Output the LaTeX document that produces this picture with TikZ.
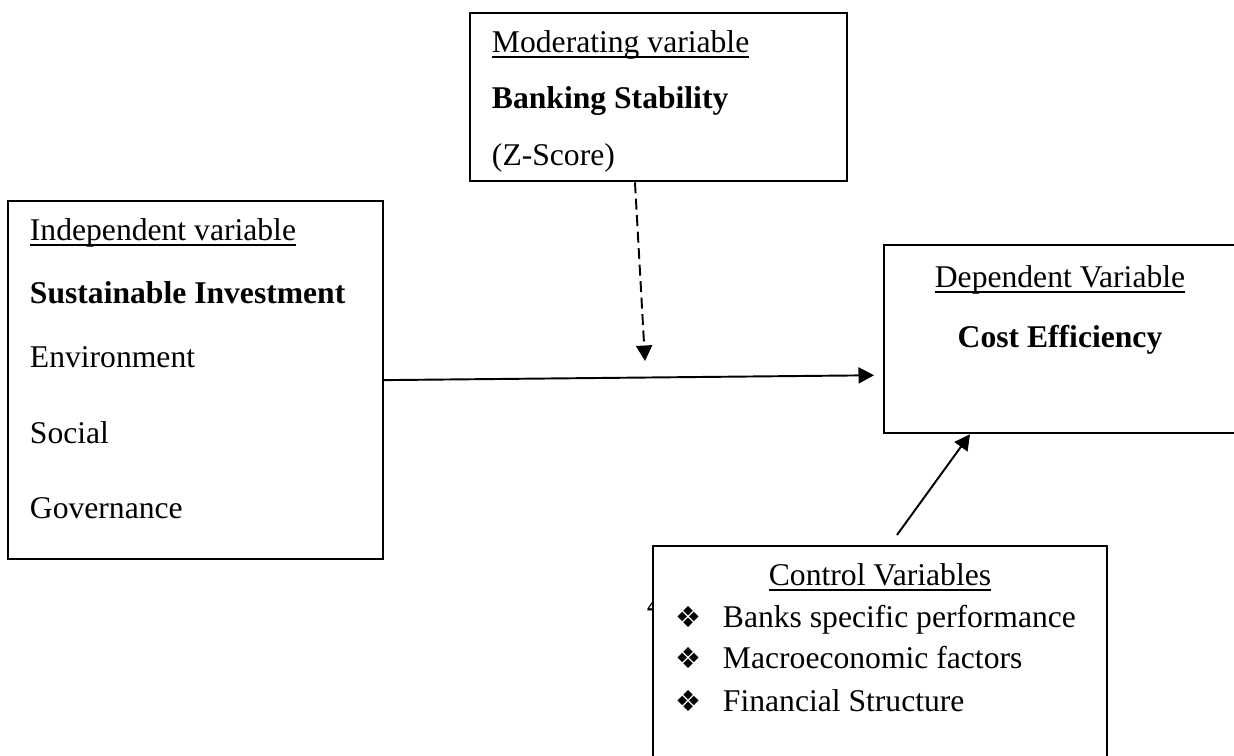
\documentclass[tikz,border=0pt]{standalone}
\usepackage{fontspec}
\setmainfont{Liberation Serif}
\newfontfamily\symbolfont{DejaVu Sans}
\usetikzlibrary{arrows.meta,positioning}

\newcommand{\varhead}[1]{\setbox0\hbox{#1}\rlap{\rule[-0.11cm]{\wd0}{0.04cm}}\box0}

\begin{document}
\begin{tikzpicture}[x=0.02cm, y=-0.02cm, line width=1.1pt,
   box/.style={draw, rectangle, fill=white, anchor=north west, inner sep=0pt, line width=1.3pt},
   txt/.style={anchor=base west, inner sep=0pt, font=\fontsize{18}{22}\selectfont},
   ctxt/.style={txt, anchor=base},
   bul/.style={anchor=base west, inner sep=0pt, font=\symbolfont\fontsize{16.5}{18}\selectfont},
   link/.style={-{Triangle[length=0.31cm, width=0.32cm]}, line width=1.1pt}]
   \useasboundingbox (0,0) rectangle (1234,755);
   \clip (0,0) rectangle (1234,755);

   % page number peeking out behind the control box
   \node[txt] (pagenum) at (646,615) {4};

   % boxes
   \node[box, minimum width=7.54cm, minimum height=3.36cm] (mod)   at (469,12)  {};
   \node[box, minimum width=7.5cm,  minimum height=7.16cm] (indep) at (7,200)   {};
   \node[box, minimum width=8cm,    minimum height=3.76cm] (dep)   at (883,244) {};
   \node[box, minimum width=9.08cm, minimum height=5.6cm]  (ctrl)  at (652,545) {};

   % moderating variable
   \node[txt] (modhead) at (491,52)  {\varhead{Moderating variable}};
   \node[txt] (modname) at (491,108) {\textbf{Banking Stability}};
   \node[txt] (modmeas) at (491,165) {(Z-Score)};

   % independent variable
   \node[txt] (indhead) at (29,240) {\varhead{Independent variable}};
   \node[txt] (indname) at (29,303) {\textbf{Sustainable Investment}};
   \node[txt] (indenv)  at (29,367) {Environment};
   \node[txt] (indsoc)  at (29,443) {Social};
   \node[txt] (indgov)  at (29,518) {Governance};

   % dependent variable
   \node[ctxt] (dephead) at (1060,287) {\varhead{Dependent Variable}};
   \node[ctxt] (depname) at (1060,347) {\textbf{Cost Efficiency}};

   % control variables
   \node[ctxt] (ctrlhead) at (880,585) {\varhead{Control Variables}};
   \node[bul] (b1) at (675,627) {❖};
   \node[bul] (b2) at (675,668) {❖};
   \node[bul] (b3) at (675,711) {❖};
   \node[txt] (c1) at (722,627) {Banks specific performance};
   \node[txt] (c2) at (722,668) {Macroeconomic factors};
   \node[txt] (c3) at (722,711) {Financial Structure};

   \coordinate (modtip) at (645,361);

   \draw[link] (indep.east) -- ([xshift=-0.18cm, yshift=1.18cm]dep.south west);
   \draw[link, dash pattern=on 0.22cm off 0.11cm] ([xshift=3.32cm]mod.south west) -- (modtip);
   \draw[link] ([xshift=4.9cm, yshift=0.2cm]ctrl.north west) -- ([xshift=1.74cm]dep.south west);
\end{tikzpicture}
\end{document}
